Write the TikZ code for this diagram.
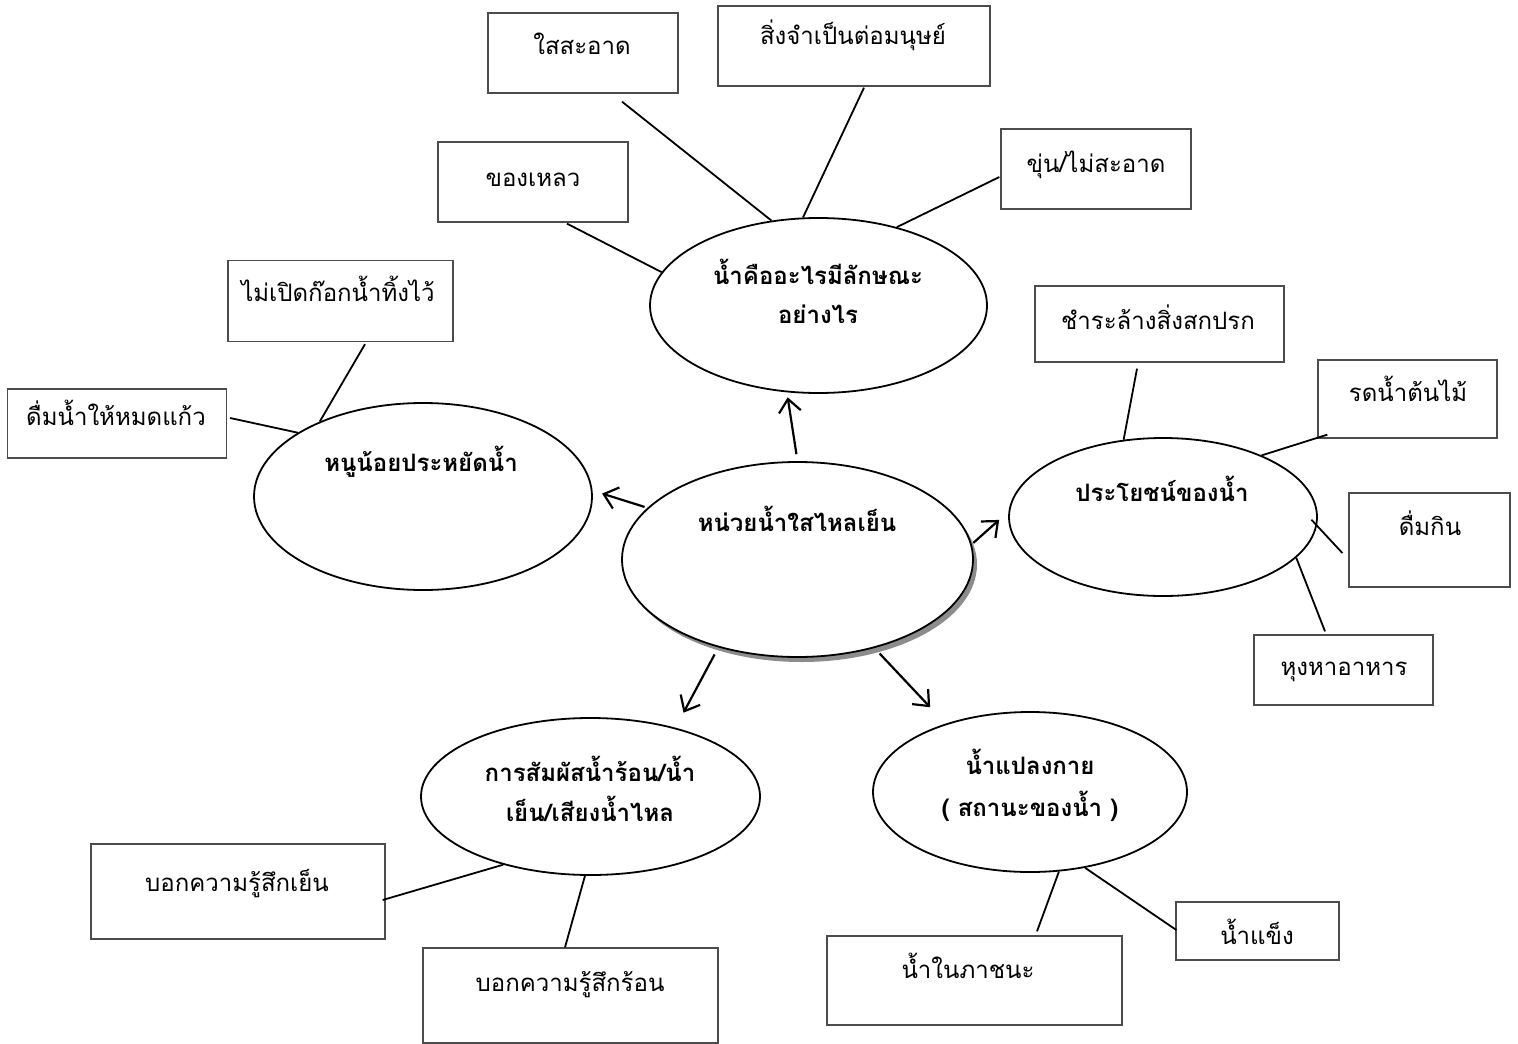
\documentclass[tikz,border=0pt]{standalone}
\usepackage{fontspec}
\newfontfamily\thaifont[Script=Thai]{Loma}
\usetikzlibrary{shapes.geometric,arrows.meta,shadows}
\begin{document}
\begin{tikzpicture}[x=1pt,y=-1pt,
  box/.style={draw=black!70, line width=1.3pt, rectangle, inner sep=0pt},
  oval/.style={draw=black, line width=1.8pt, ellipse, inner sep=0pt, fill=white},
  txt/.style={font=\thaifont\fontsize{24}{30}\selectfont, inner sep=0pt, text height=1.25em, text depth=0pt},
  btxt/.style={font=\thaifont\bfseries\fontsize{24}{30}\selectfont, inner sep=0pt, text height=1.2em, text depth=0pt},
  conn/.style={line width=1.8pt},
  arr/.style={line width=2.2pt, -{Straight Barb[length=13pt,width=22pt]}}]
\useasboundingbox (0,0) rectangle (1518,1044);

% ellipses
\node[oval, minimum width=351pt, minimum height=195pt,
      drop shadow={shadow xshift=4pt, shadow yshift=-5pt, fill=black!45, opacity=1}] (E0) at (797.5,559.5) {};
\node[oval, minimum width=337pt, minimum height=175pt] (E1) at (818.5,305.5) {};
\node[oval, minimum width=338pt, minimum height=187pt] (E2) at (423,496.5) {};
\node[oval, minimum width=308pt, minimum height=158pt] (E3) at (1163,517) {};
\node[oval, minimum width=339pt, minimum height=157pt] (E4) at (590.5,796.5) {};
\node[oval, minimum width=314pt, minimum height=160pt] (E5) at (1030,792) {};

% ellipse texts
\node[btxt] (T0) at (797,525) {หน่วยน้ำใสไหลเย็น};
\node[btxt] (T1a) at (818,278) {น้ำคืออะไรมีลักษณะ};
\node[btxt] (T1b) at (818,317) {อย่างไร};
\node[btxt] (T2) at (421,465) {หนูน้อยประหยัดน้ำ};
\node[btxt] (T3) at (1162,495) {ประโยชน์ของน้ำ};
\node[btxt] (T4a) at (590,775) {การสัมผัสน้ำร้อน/น้ำ};
\node[btxt] (T4b) at (590,815) {เย็น/เสียงน้ำไหล};
\node[btxt] (T5a) at (1030,768) {น้ำแปลงกาย};
\node[btxt] (T5b) at (1030,810) {( สถานะของน้ำ )};

% boxes
\node[box, minimum width=190pt, minimum height=80pt] (B1) at (583,53) {};
\node[box, minimum width=272pt, minimum height=80pt] (B2) at (854,46) {};
\node[box, minimum width=190pt, minimum height=80pt] (B3) at (1096,169) {};
\node[box, minimum width=190pt, minimum height=80pt] (B4) at (533,182) {};
\node[box, minimum width=225pt, minimum height=81pt] (B5) at (340.5,301) {};
\node[box, minimum width=219pt, minimum height=69pt] (B6) at (117,423.5) {};
\node[box, minimum width=249pt, minimum height=76pt] (B7) at (1159.5,324) {};
\node[box, minimum width=179pt, minimum height=78pt] (B8) at (1407.5,399) {};
\node[box, minimum width=161pt, minimum height=94pt] (B9) at (1429.5,540) {};
\node[box, minimum width=179pt, minimum height=70pt] (B10) at (1343.5,670) {};
\node[box, minimum width=294pt, minimum height=95pt] (B11) at (238,891.5) {};
\node[box, minimum width=295pt, minimum height=95pt] (B12) at (570.5,995.5) {};
\node[box, minimum width=295pt, minimum height=89pt] (B13) at (974.5,980.5) {};
\node[box, minimum width=163pt, minimum height=58pt] (B14) at (1257.5,931) {};

% box texts
\node[txt] (S1) at (582,48) {ใสสะอาด};
\node[txt] (S2) at (853,38) {สิ่งจำเป็นต่อมนุษย์};
\node[txt] (S3) at (1096,166) {ขุ่น/ไม่สะอาด};
\node[txt] (S4) at (533,180) {ของเหลว};
\node[txt] (S5) at (338,295) {ไม่เปิดก๊อกน้ำทิ้งไว้};
\node[txt] (S6) at (116,419) {ดื่มน้ำให้หมดแก้ว};
\node[txt] (S7) at (1158,323) {ชำระล้างสิ่งสกปรก};
\node[txt] (S8) at (1408,395) {รดน้ำต้นไม้};
\node[txt] (S9) at (1430,529) {ดื่มกิน};
\node[txt] (S10) at (1344,669) {หุงหาอาหาร};
\node[txt] (S11) at (237,885) {บอกความรู้สึกเย็น};
\node[txt] (S12) at (570,985) {บอกความรู้สึกร้อน};
\node[txt] (S13) at (968,972) {น้ำในภาชนะ};
\node[txt] (S14) at (1257,938) {น้ำแข็ง};

% connectors
\draw[conn] ([xshift=39pt,yshift=-8pt]B1.south) -- (E1.119);
\draw[conn] ([xshift=10pt,yshift=-1pt]B2.south) -- (E1.100.6);
\draw[conn] ([xshift=-1pt,yshift=-8pt]B3.west) -- (E1.45.4);
\draw[conn] ([xshift=34pt,yshift=-1pt]B4.south) -- (E1.168.2);
\draw[conn] ([xshift=24.5pt,yshift=-2pt]B5.south) -- (E2.144.2);
\draw[conn] ([xshift=3pt,yshift=5.5pt]B6.east) -- (E2.153.6);
\draw[conn] ([xshift=-22.5pt,yshift=-6pt]B7.south) -- (E3.117.2);
\draw[conn] ([xshift=10pt,yshift=4pt]B8.south west) -- (E3.32.2);
\draw[conn] ([xshift=-6pt,yshift=-13pt]B9.west) -- ([xshift=-6.5pt,yshift=-2.7pt]E3.east);
\draw[conn] ([xshift=-18.5pt,yshift=3pt]B10.north) -- (E3.-17);
\draw[conn] ([xshift=-3pt,yshift=-8.5pt]B11.east) -- (E4.218);
\draw[conn] ([xshift=-5.5pt]B12.north) -- (E4.266);
\draw[conn] ([xshift=62.5pt,yshift=4pt]B13.north) -- (E5.-70.7);
\draw[conn] ([xshift=1pt,yshift=1pt]B14.west) -- (E5.-54.5);

% arrows
\draw[arr, shorten <=7pt, shorten >=5pt] (E0.90) -- (E1.250.8);
\draw[arr, shorten <=3pt, shorten >=10pt] (E0.161.8) -- (E2.2.7);
\draw[arr, shorten <=2pt, shorten >=12.5pt] (E0.5.4) -- (E3.178.6);
\draw[arr, shorten <=8pt, shorten >=17pt] (E0.228.4) -- (E4.39.6);
\draw[arr, shorten <=7.5pt, shorten >=22.5pt] (E0.311.3) -- (E5.141);
\end{tikzpicture}
\end{document}
